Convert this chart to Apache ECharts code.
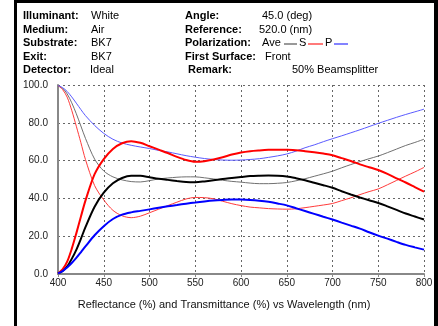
<!DOCTYPE html>
<html>
<head>
<meta charset="utf-8">
<script src="https://cdn.jsdelivr.net/npm/echarts@6/dist/echarts.min.js"></script>
<style>
  html, body { margin: 0; padding: 0; background: #fff; }
  #chart { width: 438px; height: 326px; }
</style>
</head>
<body>
<div id="chart"></div>
<script>
// wavelength (nm)
var wavelength = [400, 405, 410, 415, 420, 425, 430, 440, 450, 460, 470, 480, 490, 500,
  510, 520, 530, 540, 550, 560, 570, 580, 590, 600, 610, 620, 630, 640, 650,
  660, 670, 680, 690, 700, 710, 720, 730, 740, 750, 760, 770, 780, 790, 800];

// thick curves (start at 0)
var aveThick = [0.3, 1.6, 4, 8, 12.8, 18.6, 24.8, 35.6, 43, 48, 50.8, 52, 52, 51.2,
  50.4, 49.8, 49.2, 48.7, 48.6, 49, 49.6, 50.3, 50.8, 51.3, 51.8, 52, 52.1, 52, 51.6,
  50.7, 49.6, 48.3, 47, 45.6, 43.8, 42.1, 40.5, 39, 37.6, 35.8, 33.9, 32, 30.4, 28.8];
var sThick = [0.3, 2.4, 6.5, 13.3, 21.5, 30.3, 38.8, 52.8, 60.8, 66.2, 69.2, 70.3, 69.4, 67.6,
  65.8, 64, 62, 60.3, 59.4, 59.7, 60.6, 61.8, 63.2, 64.3, 65, 65.4, 65.7, 65.8, 65.7,
  65.5, 65, 64.4, 63.7, 62.8, 61.3, 59.8, 58, 56.5, 55, 53, 50.6, 48.4, 46, 43.6];
var pThick = [0.3, 1.5, 3.5, 5.8, 8.5, 11.5, 14.6, 20.5, 25.3, 29.1, 31.4, 32.6, 33.4, 34.2,
  35, 35.8, 36.5, 37.2, 37.8, 38.4, 38.9, 39.2, 39.4, 39.4, 39.2, 38.8, 38.2, 37.3, 36.3,
  34.8, 33.3, 31.8, 30.3, 28.8, 27.2, 25.6, 24, 22.1, 20.3, 18.7, 17, 15.4, 14.1, 12.9];

// thin curves (start at 100)
var aveThin = [99.7, 98.3, 95.3, 90.6, 84.8, 78.3, 71.8, 60.8, 54.5, 51.4, 49.8, 48.9, 48.7, 49.4,
  50.3, 50.8, 51.2, 51.4, 51.4, 50.9, 50.3, 49.6, 49, 48.6, 48.1, 47.8, 47.8, 48, 48.4,
  49.3, 50.4, 51.7, 53, 54.4, 56.2, 57.9, 59.5, 61, 62.4, 64.2, 66.1, 68, 69.6, 71.3];
var sThin = [99.7, 97.6, 93.6, 86.6, 78.2, 69.5, 60.6, 46.8, 39.2, 33.7, 30.8, 29.8, 30.6, 32.4,
  34.3, 36.2, 38, 39.7, 40.5, 40.4, 39.8, 38.5, 37.2, 36.2, 35.4, 35, 34.6, 34.4, 34.3,
  34.5, 35.1, 35.8, 36.5, 37.3, 38.8, 40.3, 42, 43.6, 45, 47.2, 49.5, 51.8, 54, 56.4];
var pThin = [99.7, 98.6, 96.6, 93.7, 90.4, 87, 83.8, 78.6, 74.4, 71.3, 69.3, 68.1, 67.2, 66.4,
  65.4, 64.6, 63.6, 62.6, 61.8, 61.1, 60.6, 60.3, 60.2, 60.3, 60.6, 61, 61.7, 62.5, 63.5,
  65, 66.8, 68.3, 70, 71.6, 73.1, 74.7, 76.3, 78, 79.7, 81.3, 82.9, 84.4, 85.8, 87.2];

// header rows: [label, value]
var leftRows = [["Illuminant:", "White"], ["Medium:", "Air"], ["Substrate:", "BK7"], ["Exit:", "BK7"], ["Detector:", "Ideal"]];
var rightRows = [["Angle:", "45.0 (deg)"], ["Reference:", "520.0 (nm)"], ["Polarization:", "Ave"], ["First Surface:", "Front"], ["Remark:", "50% Beamsplitter"]];

function pairs(arr) {
  return wavelength.map(function (w, i) { return [w, arr[i]]; });
}

function line(name, arr, color, width) {
  return {
    name: name,
    type: "line",
    data: pairs(arr),
    smooth: 0.3,
    symbol: "none",
    lineStyle: { color: color, width: width },
    emphasis: { disabled: true }
  };
}

var font = "Liberation Sans, Arial, sans-serif";
var rowY = [16, 29.5, 43, 56.5, 70];
var graphics = [
  // frame
  { type: "rect", shape: { x: 14, y: 0, width: 3, height: 326 }, style: { fill: "#000" } },
  { type: "rect", shape: { x: 14, y: 0, width: 424, height: 3 }, style: { fill: "#000" } },
  { type: "rect", shape: { x: 434, y: 0, width: 4, height: 326 }, style: { fill: "#000" } }
];
var valX = [91, 91, 91, 91, 90];
var rValX = [262, 259, 262, 265, 292];
leftRows.forEach(function (r, i) {
  graphics.push({ type: "text", x: 23, y: rowY[i], style: { text: r[0], font: "bold 11px " + font, fill: "#000", verticalAlign: "middle" } });
  graphics.push({ type: "text", x: valX[i], y: rowY[i], style: { text: r[1], font: "11px " + font, fill: "#000", verticalAlign: "middle" } });
});
rightRows.forEach(function (r, i) {
  graphics.push({ type: "text", x: i === 4 ? 188 : 185, y: rowY[i], style: { text: r[0], font: "bold 11px " + font, fill: "#000", verticalAlign: "middle" } });
  graphics.push({ type: "text", x: rValX[i], y: rowY[i], style: { text: r[1], font: "11px " + font, fill: "#000", verticalAlign: "middle" } });
});
// polarization key
graphics.push(
  { type: "line", shape: { x1: 284, y1: 44, x2: 297, y2: 44 }, style: { stroke: "#555", lineWidth: 1.2 } },
  { type: "text", x: 299, y: 43, style: { text: "S", font: "11px " + font, fill: "#000", verticalAlign: "middle" } },
  { type: "line", shape: { x1: 308, y1: 44, x2: 323, y2: 44 }, style: { stroke: "#ff2020", lineWidth: 1.2 } },
  { type: "text", x: 325, y: 43, style: { text: "P", font: "11px " + font, fill: "#000", verticalAlign: "middle" } },
  { type: "line", shape: { x1: 334, y1: 44, x2: 348, y2: 44 }, style: { stroke: "#3030ff", lineWidth: 1.2 } }
);

var chart = echarts.init(document.getElementById("chart"));
chart.setOption({
  animation: false,
  backgroundColor: "#fff",
  title: {
    text: "Reflectance (%) and Transmittance (%) vs Wavelength (nm)",
    left: 219,
    textAlign: "center",
    top: 294,
    textStyle: { fontSize: 11, fontWeight: "normal", color: "#111", fontFamily: font }
  },
  graphic: graphics,
  grid: { left: 58, right: 14, top: 85, bottom: 52 },
  xAxis: {
    type: "value",
    min: 400,
    max: 800,
    interval: 50,
    axisLine: { lineStyle: { color: "#888", width: 2 } },
    axisTick: { show: true, length: 3, lineStyle: { color: "#888" } },
    axisLabel: { fontSize: 10, color: "#222", margin: 4, fontFamily: font },
    splitLine: { show: true, lineStyle: { color: "#666", width: 1, type: [2, 3] } }
  },
  yAxis: {
    type: "value",
    min: 0,
    max: 100,
    interval: 20,
    axisLine: { show: true, lineStyle: { color: "#888", width: 2 } },
    axisTick: { show: false },
    axisLabel: {
      fontSize: 10, color: "#222", margin: 10, fontFamily: font,
      formatter: function (v) { return v.toFixed(1); }
    },
    splitLine: { show: true, lineStyle: { color: "#666", width: 1, type: [2, 3] } }
  },
  series: [
    line("Ave thin", aveThin, "#707070", 1),
    line("S thin", sThin, "#ff3a3a", 1),
    line("P thin", pThin, "#5a5aff", 1),
    line("Ave", aveThick, "#000", 2),
    line("S", sThick, "#ff0000", 2),
    line("P", pThick, "#0000ff", 2)
  ]
});
</script>
</body>
</html>
